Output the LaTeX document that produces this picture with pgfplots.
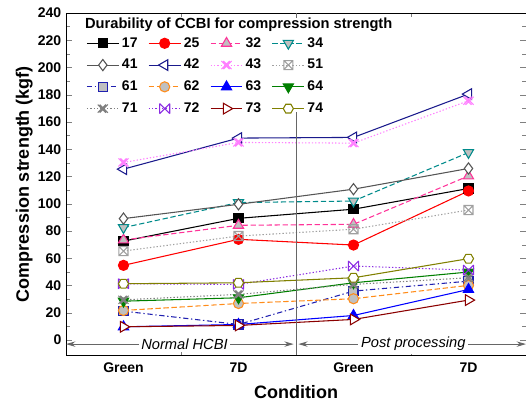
\documentclass[border=0pt]{standalone}
\usepackage{fontspec}
\setmainfont{Liberation Sans}
\usepackage{pgfplots}
\pgfplotsset{compat=1.18}
\usetikzlibrary{arrows.meta}

\definecolor{c32}{HTML}{FF3399}
\definecolor{c34}{HTML}{008B8B}
\definecolor{c41}{HTML}{555555}
\definecolor{c42}{HTML}{1A1A8C}
\definecolor{c43}{HTML}{FF80FF}
\definecolor{c51}{HTML}{A0A0A0}
\definecolor{c61}{HTML}{2020B0}
\definecolor{c62}{HTML}{FF8C1A}
\definecolor{c63}{HTML}{0000FF}
\definecolor{c64}{HTML}{007F00}
\definecolor{c71}{HTML}{808080}
\definecolor{c72}{HTML}{8A2BE2}
\definecolor{c73}{HTML}{8B0000}
\definecolor{c74}{HTML}{808000}
\definecolor{mfill}{HTML}{C0C0C0}

% extra marks
\pgfdeclareplotmark{hexagon}{%
  \pgfpathmoveto{\pgfqpointpolar{0}{\pgfplotmarksize}}%
  \pgfpathlineto{\pgfqpointpolar{60}{\pgfplotmarksize}}%
  \pgfpathlineto{\pgfqpointpolar{120}{\pgfplotmarksize}}%
  \pgfpathlineto{\pgfqpointpolar{180}{\pgfplotmarksize}}%
  \pgfpathlineto{\pgfqpointpolar{240}{\pgfplotmarksize}}%
  \pgfpathlineto{\pgfqpointpolar{300}{\pgfplotmarksize}}%
  \pgfpathclose\pgfusepathqfillstroke}
\pgfdeclareplotmark{boxx}{%
  \pgfpathrectangle{\pgfqpoint{-\pgfplotmarksize}{-\pgfplotmarksize}}{\pgfqpoint{2\pgfplotmarksize}{2\pgfplotmarksize}}%
  \pgfpathmoveto{\pgfqpoint{-\pgfplotmarksize}{-\pgfplotmarksize}}%
  \pgfpathlineto{\pgfqpoint{\pgfplotmarksize}{\pgfplotmarksize}}%
  \pgfpathmoveto{\pgfqpoint{-\pgfplotmarksize}{\pgfplotmarksize}}%
  \pgfpathlineto{\pgfqpoint{\pgfplotmarksize}{-\pgfplotmarksize}}%
  \pgfusepathqstroke}
\pgfdeclareplotmark{xbar}{%
  \pgfpathmoveto{\pgfqpoint{-\pgfplotmarksize}{-\pgfplotmarksize}}%
  \pgfpathlineto{\pgfqpoint{\pgfplotmarksize}{\pgfplotmarksize}}%
  \pgfpathmoveto{\pgfqpoint{-\pgfplotmarksize}{\pgfplotmarksize}}%
  \pgfpathlineto{\pgfqpoint{\pgfplotmarksize}{-\pgfplotmarksize}}%
  \pgfpathmoveto{\pgfqpoint{-\pgfplotmarksize}{-\pgfplotmarksize}}%
  \pgfpathlineto{\pgfqpoint{-\pgfplotmarksize}{\pgfplotmarksize}}%
  \pgfpathmoveto{\pgfqpoint{\pgfplotmarksize}{-\pgfplotmarksize}}%
  \pgfpathlineto{\pgfqpoint{\pgfplotmarksize}{\pgfplotmarksize}}%
  \pgfusepathqstroke}
\pgfdeclareplotmark{dblx}{%
  \pgfpathmoveto{\pgfqpoint{-\pgfplotmarksize}{-0.8\pgfplotmarksize}}%
  \pgfpathlineto{\pgfqpoint{0.6\pgfplotmarksize}{0.8\pgfplotmarksize}}%
  \pgfpathmoveto{\pgfqpoint{-\pgfplotmarksize}{0.8\pgfplotmarksize}}%
  \pgfpathlineto{\pgfqpoint{0.6\pgfplotmarksize}{-0.8\pgfplotmarksize}}%
  \pgfpathmoveto{\pgfqpoint{-0.6\pgfplotmarksize}{-0.8\pgfplotmarksize}}%
  \pgfpathlineto{\pgfqpoint{\pgfplotmarksize}{0.8\pgfplotmarksize}}%
  \pgfpathmoveto{\pgfqpoint{-0.6\pgfplotmarksize}{0.8\pgfplotmarksize}}%
  \pgfpathlineto{\pgfqpoint{\pgfplotmarksize}{-0.8\pgfplotmarksize}}%
  \pgfusepathqstroke}

\begin{document}
\begin{tikzpicture}
\useasboundingbox (-49.5pt,-37.5pt) rectangle (345pt,266.25pt);
\begin{axis}[
  scale only axis, width=345pt, height=256.5pt,
  xmin=-0.5, xmax=3.5, ymin=-11, ymax=240,
  xtick={0,1,2,3}, xticklabels={Green,7D,Green,7D},
  major x tick style={draw=none},
  minor xtick={0.5,1.5,2.5},
  ytick={0,20,...,240}, minor y tick num=1,
  tick align=inside, tick pos=both,
  tick label style={font=\fontsize{10.5}{12}\selectfont\bfseries},
  xticklabel style={yshift=-2pt},
  /pgf/number format/assume math mode=true,
  xlabel={Condition}, ylabel={Compression strength (kgf)},
  label style={font=\fontsize{13.5}{15}\selectfont\bfseries},
  xlabel style={yshift=-3pt},
  ylabel style={yshift=-3pt},
  every axis plot/.append style={line width=0.8pt, mark size=3.8pt},
  legend columns=4,
  legend image code/.code={\draw[mark repeat=2,mark phase=2,#1] plot coordinates {(0cm,0cm) (0.42cm,0cm) (0.84cm,0cm)};},
  legend style={draw=none, fill=none, at={(0.035,0.945)}, anchor=north west,
    font=\fontsize{10.5}{12}\selectfont\bfseries,
    /tikz/every even column/.append style={column sep=6pt},
    row sep=3.5pt},
]
\addplot[black, mark=square*, mark options={solid, mark size=3.4pt}] coordinates {(0,72.6) (1,89.3) (2,96) (3,111.2)};
\addlegendentry{17}
\addplot[red, mark=*, mark options={solid}] coordinates {(0,54.8) (1,73.9) (2,69.7) (3,109.4)};
\addlegendentry{25}
\addplot[c32, dash pattern=on 4pt off 2pt, mark=triangle*, mark options={solid, fill=mfill, mark size=4.4pt}] coordinates {(0,73.4) (1,84.2) (2,84.9) (3,120.4)};
\addlegendentry{32}
\addplot[c34, dash pattern=on 4pt off 2pt, mark=triangle*, mark options={solid, fill=mfill, rotate=180, mark size=4.4pt}] coordinates {(0,82.5) (1,100.9) (2,102) (3,137.6)};
\addlegendentry{34}
\addplot[c41, mark=diamond*, mark options={solid, fill=white, mark size=4.2pt}] coordinates {(0,89.1) (1,99.6) (2,110.7) (3,125.9)};
\addlegendentry{41}
\addplot[c42, mark=triangle*, mark options={solid, fill=white, rotate=90, mark size=4.6pt}] coordinates {(0,125.4) (1,148.2) (2,148.7) (3,180.5)};
\addlegendentry{42}
\addplot[c43, dash pattern=on 1pt off 1.5pt, mark=dblx, mark options={solid}] coordinates {(0,130.3) (1,145) (2,144.5) (3,175.6)};
\addlegendentry{43}
\addplot[c51, dash pattern=on 1pt off 1.5pt, mark=boxx, mark options={solid, mark size=3.4pt}] coordinates {(0,65.3) (1,76.3) (2,81.3) (3,95.4)};
\addlegendentry{51}
\addplot[c61, dash pattern=on 4pt off 2pt on 1pt off 2pt, mark=square*, mark options={solid, fill=mfill, mark size=3.4pt}] coordinates {(0,21.2) (1,11.4) (2,35.9) (3,43.2)};
\addlegendentry{61}
\addplot[c62, dash pattern=on 4pt off 2pt, mark=*, mark options={solid, fill=mfill}] coordinates {(0,21.7) (1,26.8) (2,30.3) (3,40.1)};
\addlegendentry{62}
\addplot[c63, mark=triangle*, mark options={solid, mark size=4.4pt}] coordinates {(0,9.7) (1,11.4) (2,18) (3,37.1)};
\addlegendentry{63}
\addplot[c64, mark=triangle*, mark options={solid, rotate=180, mark size=4.4pt}] coordinates {(0,28.5) (1,31) (2,42) (3,49.9)};
\addlegendentry{64}
\addplot[c71, dash pattern=on 1pt off 1.5pt, mark=dblx, mark options={solid}] coordinates {(0,29.5) (1,33.5) (2,40.8) (3,45.7)};
\addlegendentry{71}
\addplot[c72, dash pattern=on 1pt off 1.5pt, mark=xbar, mark options={solid}] coordinates {(0,41.3) (1,40.8) (2,54.3) (3,51.3)};
\addlegendentry{72}
\addplot[c73, mark=triangle*, mark options={solid, fill=white, rotate=-90, mark size=4.6pt}] coordinates {(0,9.7) (1,10.7) (2,15.1) (3,29.3)};
\addlegendentry{73}
\addplot[c74, mark=hexagon, mark options={solid, fill=white}] coordinates {(0,41.3) (1,42) (2,45.7) (3,59.7)};
\addlegendentry{74}

\draw[gray!80!black, line width=0.7pt] (1.5,-11) -- (1.5,167);
\draw[gray!80!black, line width=0.7pt] (1.5,240) -- (1.5,236);
\draw[gray!80!black, line width=0.7pt, {Stealth[length=7pt,width=4pt]}-{Stealth[length=7pt,width=4pt]}] (-0.5,-3) -- (1.48,-3);
\draw[gray!80!black, line width=0.7pt, {Stealth[length=7pt,width=4pt]}-{Stealth[length=7pt,width=4pt]}] (1.52,-3) -- (3.5,-3);
\node[fill=white, inner sep=2pt, font=\fontsize{11}{12}\selectfont\itshape] at (0.53,-3) {Normal HCBI};
\node[fill=white, inner sep=2pt, font=\fontsize{11}{12}\selectfont\itshape] at (2.52,-3) {Post processing};
\node[anchor=west, inner sep=0pt, font=\fontsize{11}{13}\selectfont\bfseries] at (rel axis cs:0.041,0.965) {Durability of CCBI for compression strength};
\end{axis}
\end{tikzpicture}
\end{document}
